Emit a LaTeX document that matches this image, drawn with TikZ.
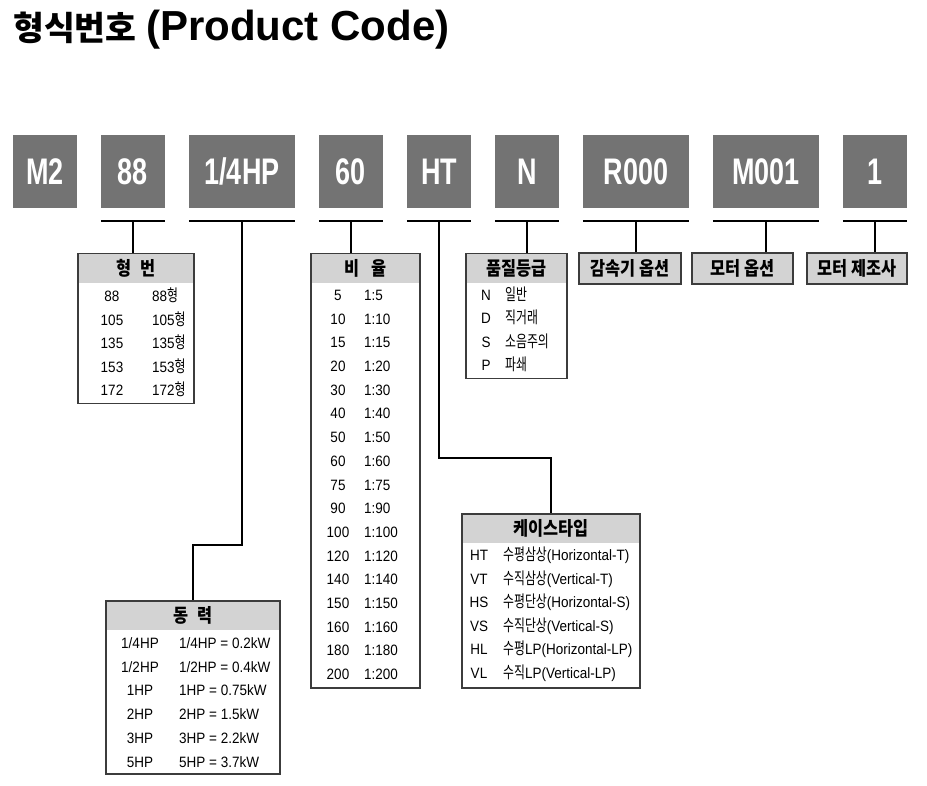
\documentclass[tikz,border=0pt]{standalone}
\usepackage{fontspec}
\setmainfont[FakeStretch=0.9]{Liberation Sans}
\newfontfamily\titlefont{Liberation Sans}
\newfontfamily\codefont[FakeStretch=0.73]{Liberation Sans}
\newfontfamily\korfont[FakeStretch=0.72, Scale=1.1]{Noto Sans CJK KR}
\newfontfamily\korhead[FakeStretch=0.86]{Noto Sans CJK KR}
\newfontfamily\kortitle{Noto Sans CJK KR}
\newcommand{\kor}[1]{{\korfont #1}}
\definecolor{codegray}{RGB}{115,115,115}
\definecolor{headgray}{RGB}{211,211,211}
\definecolor{framegray}{RGB}{60,60,60}
\tikzset{
	codebox/.style={fill=codegray, text=white, minimum height=73pt, inner sep=0pt, font=\codefont\bfseries\fontsize{37}{40}\selectfont},
	tablebox/.style={draw=framegray, line width=1.5pt, fill=white, inner sep=0pt,
		path picture={\fill[headgray] (path picture bounding box.north west) rectangle ([yshift=-29pt]path picture bounding box.north east);}},
	labelbox/.style={draw=framegray, line width=1.5pt, fill=headgray, minimum height=31pt, inner sep=0pt, font=\korhead\bfseries\fontsize{19}{22}\selectfont},
	headtext/.style={inner sep=0pt, font=\korhead\bfseries\fontsize{19}{22}\selectfont},
	celltext/.style={inner sep=0pt, font=\fontsize{15}{18}\selectfont},
	wire/.style={line width=1.6pt}
}
\begin{document}
\begin{tikzpicture}[x=1pt, y=-1pt]
	\fill[white] (0,0) rectangle (927,786);
	\useasboundingbox (0,0) rectangle (927,786);

	\node[anchor=base west, inner sep=0pt, font=\titlefont\bfseries\fontsize{42}{46}\selectfont] (title) at (13,41)
		{{\kortitle\fontsize{33.5}{36}\selectfont 형식번호}\hspace{-2pt} (Product Code)};

	% code boxes
	\node[codebox, minimum width=64pt] (m2) at (45,171.5) {M2};
	\node[codebox, minimum width=64pt] (c88) at (133,171.5) {88};
	\node[codebox, minimum width=106pt] (cHP) at (242,171.5) {1/4HP};
	\node[codebox, minimum width=64pt] (c60) at (351,171.5) {60};
	\node[codebox, minimum width=64pt] (cHT) at (439,171.5) {HT};
	\node[codebox, minimum width=64pt] (cN) at (527,171.5) {N};
	\node[codebox, minimum width=106pt] (cR) at (636,171.5) {R000};
	\node[codebox, minimum width=106pt] (cM) at (766,171.5) {M001};
	\node[codebox, minimum width=64pt] (c1) at (875,171.5) {1};

	\foreach \n in {88,HP,60,HT,N,R,M,1} {
		\draw[wire] ([yshift=-13pt]c\n.south west) -- ([yshift=-13pt]c\n.south east);
		\coordinate (j\n) at ([yshift=-13pt]c\n.south);
	}

	% tables
	\node[tablebox, anchor=north west, minimum width=116pt, minimum height=150pt] (t88) at (77,253) {};
	\node[headtext] (h88) at ([yshift=-15pt]t88.north) {형\hspace{9pt}번};
	\foreach \a [count=\i from 0] in {88,105,135,153,172} {
		\node[celltext, anchor=base] (n88-\i) at (112,301.5+23.6*\i) {\a};
		\node[celltext, anchor=base west] (v88-\i) at (152,301.5+23.6*\i) {\a\kor{형}};
	}

	\node[tablebox, anchor=north west, minimum width=109pt, minimum height=434pt] (t60) at (310,253) {};
	\node[headtext] (h60) at ([yshift=-15pt]t60.north) {비\hspace{12pt}율};
	\foreach \a [count=\i from 0] in {5,10,15,20,30,40,50,60,75,90,100,120,140,150,160,180,200} {
		\node[celltext, anchor=base] (n60-\i) at (338,300.5+23.69*\i) {\a};
		\node[celltext, anchor=base west] (v60-\i) at (364,300.5+23.69*\i) {1:\a};
	}

	\node[tablebox, anchor=north west, minimum width=101pt, minimum height=125pt] (tN) at (465,253) {};
	\node[headtext] (hN) at ([yshift=-15pt]tN.north) {품질등급};
	\foreach \a/\b [count=\i from 0] in {N/일반, D/직거래, S/소음주의, P/파쇄} {
		\node[celltext, anchor=base] (nN-\i) at (486,300.5+23.5*\i) {\a};
		\node[celltext, anchor=base west] (vN-\i) at (505,300.5+23.5*\i) {\kor{\b}};
	}

	\node[tablebox, anchor=north west, minimum width=178pt, minimum height=174pt] (tCase) at (461,513) {};
	\node[headtext] (hCase) at ([yshift=-15pt]tCase.north) {케이스타입};
	\foreach \a/\b/\c [count=\i from 0] in {HT/수평삼상/Horizontal-T, VT/수직삼상/Vertical-T, HS/수평단상/Horizontal-S,
			VS/수직단상/Vertical-S, HL/수평/Horizontal-LP, VL/수직/Vertical-LP} {
		\node[celltext, anchor=base] (nCase-\i) at (479,560.5+23.5*\i) {\a};
		\node[celltext, anchor=base west] (vCase-\i) at (503,560.5+23.5*\i) {\ifnum\i>3 \kor{\b}LP(\c)\else\kor{\b}(\c)\fi};
	}

	\node[tablebox, anchor=north west, minimum width=174pt, minimum height=173pt] (tHP) at (105,600) {};
	\node[headtext] (hHP) at ([yshift=-15pt]tHP.north) {동\hspace{9pt}력};
	\foreach \a/\b [count=\i from 0] in {{1/4HP}/0.2kW, {1/2HP}/0.4kW, 1HP/0.75kW, 2HP/1.5kW, 3HP/2.2kW, 5HP/3.7kW} {
		\node[celltext, anchor=base] (nHP-\i) at (140,648.5+23.7*\i) {\a};
		\node[celltext, anchor=base west] (vHP-\i) at (179,648.5+23.7*\i) {\a{} = \b};
	}

	% option labels
	\node[labelbox, minimum width=102pt] (lR) at (630,268.5) {감속기 옵션};
	\node[labelbox, minimum width=101pt] (lM) at (742.5,268.5) {모터 옵션};
	\node[labelbox, minimum width=100pt] (l1) at (857,268.5) {모터 제조사};

	% wires
	\draw[wire] (j88) -- (j88 |- t88.north);
	\draw[wire] (jHP) |- ([yshift=55pt]tHP.north) -- (tHP.north);
	\draw[wire] (j60) -- (j60 |- t60.north);
	\draw[wire] (jHT) |- ([yshift=55pt]tCase.north) -- (tCase.north);
	\draw[wire] (jN) -- (jN |- tN.north);
	\draw[wire] (jR) -- (jR |- lR.north);
	\draw[wire] (jM) -- (jM |- lM.north);
	\draw[wire] (j1) -- (j1 |- l1.north);
\end{tikzpicture}
\end{document}
